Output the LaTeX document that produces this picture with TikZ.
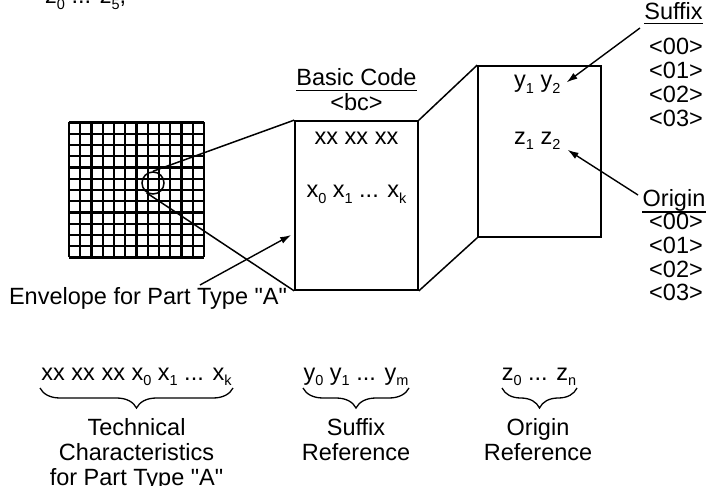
\documentclass[tikz,border=0pt]{standalone}
\usepackage{fontspec}
\setmainfont{Liberation Sans}[Ligatures=TeXOff]
\usetikzlibrary{arrows.meta,decorations.pathreplacing}
\newcommand\lo[1]{\raisebox{-0.22em}{\fontsize{14.5}{14.5}\selectfont #1}}
\newcommand\qq{\symbol{34}}
\begin{document}
\begin{tikzpicture}[x=1pt,y=-1pt,
  txt/.style={inner sep=0pt,font=\fontsize{23.5}{24.8}\selectfont},
  panel/.style={draw,line width=1.7pt,inner sep=0pt,minimum width=123pt},
  edge/.style={line width=1.5pt},
  arr/.style={line width=1.4pt,-{Latex[length=11pt,width=7pt]}},
  ubrace/.style={line width=1.3pt,decorate,decoration={brace,mirror,amplitude=20pt}},
  uline/.style={line width=1.1pt}]
\useasboundingbox (0,0) rectangle (709,486);
% cut-off text at top
\node[txt,anchor=base west] (cut) at (45,4) {z\lo{0} ... z\lo{5},};
% grid
\foreach \i in {0,...,12}{
  \draw[line width=2.2pt] (69+\i*11.25,122.5) -- (69+\i*11.25,257.5);
  \draw[line width=2.2pt] (69,122.5+\i*11.25) -- (204,122.5+\i*11.25);
}
\node[draw,circle,line width=1.5pt,minimum size=22pt,inner sep=0pt] (env) at (153,183) {};
% panels
\node[panel,minimum height=169pt] (bc) at (356.5,205.5) {};
\node[panel,minimum height=171pt] (ref) at (539.5,151.5) {};
\draw[edge] (env.north) -- (bc.north west);
\draw[edge] (env.237) -- (bc.south west);
\draw[edge] (bc.north east) -- (ref.north west);
\draw[edge] (bc.south east) -- (ref.south west);
% basic code
\node[txt,anchor=base] (bchead) at (356.5,86) {Basic Code};
\draw[uline] ([yshift=-4.5pt]bchead.base west) -- ([yshift=-4.5pt]bchead.base east);
\node[txt,anchor=base] (bctag) at (356.5,111) {<bc>};
\node[txt,anchor=base] (xx) at (356.5,145) {xx xx xx};
\node[txt,anchor=base] (xk) at (356.5,198) {x\lo{0} x\lo{1} ... x\lo{k}};
% ref panel
\node[txt,anchor=base west] (y12) at (514,88) {y\lo{1} y\lo{2}};
\node[txt,anchor=base west] (z12) at (514,144.5) {z\lo{1} z\lo{2}};
% suffix list
\node[txt,anchor=base] (sufhead) at (673.5,20) {Suffix};
\draw[uline] ([yshift=-3.5pt]sufhead.base west) -- ([yshift=-3.5pt]sufhead.base east);
\node[txt,anchor=base] (s0) at (676,55) {<00>};
\node[txt,anchor=base] (s1) at (676,79) {<01>};
\node[txt,anchor=base] (s2) at (676,103) {<02>};
\node[txt,anchor=base] (s3) at (676,126.5) {<03>};
% origin list
\node[txt,anchor=base] (orighead) at (674,207) {Origin};
\draw[uline] ([yshift=-5pt]orighead.base west) -- ([yshift=-5pt]orighead.base east);
\node[txt,anchor=base] (o0) at (676,230) {<00>};
\node[txt,anchor=base] (o1) at (676,253.5) {<01>};
\node[txt,anchor=base] (o2) at (676,277) {<02>};
\node[txt,anchor=base] (o3) at (676,300) {<03>};
% arrows
\coordinate (sa) at (640,28);
\coordinate (oa) at (638,195);
\draw[arr] (sa) -- ([xshift=6pt,yshift=2pt]y12.east);
\draw[arr] (oa) -- ([xshift=7pt,yshift=-9pt]z12.east);
% envelope
\node[txt,anchor=base] (envlab) at (148,305) {Envelope for Part Type \qq A\qq};
\coordinate (ea) at (200,285);
\draw[arr] (ea) -- ([xshift=-3pt,yshift=-29.5pt]bc.west);
% bottom
\node[txt,anchor=base] (tc) at (136.5,380) {xx xx xx x\lo{0} x\lo{1} ... x\lo{k}};
\node[txt,anchor=base] (sr) at (356,380) {y\lo{0} y\lo{1} ... y\lo{m}};
\node[txt,anchor=base] (orr) at (539,380) {z\lo{0} ... z\lo{n}};
\coordinate (b1l) at (40,388); \coordinate (b1r) at (233,388);
\coordinate (b2l) at (303,388); \coordinate (b2r) at (409,388);
\coordinate (b3l) at (502,388); \coordinate (b3r) at (577,388);
\draw[ubrace] (b1l) -- (b1r);
\draw[ubrace] (b2l) -- (b2r);
\draw[ubrace] (b3l) -- (b3r);
\node[txt,anchor=base,align=center] (tcl) at (136.5,485) {Technical\\Characteristics\\for Part Type \qq A\qq};
\node[txt,anchor=base,align=center] (srl) at (356,460) {Suffix\\Reference};
\node[txt,anchor=base,align=center] (orl) at (538,460) {Origin\\Reference};
\end{tikzpicture}
\end{document}
